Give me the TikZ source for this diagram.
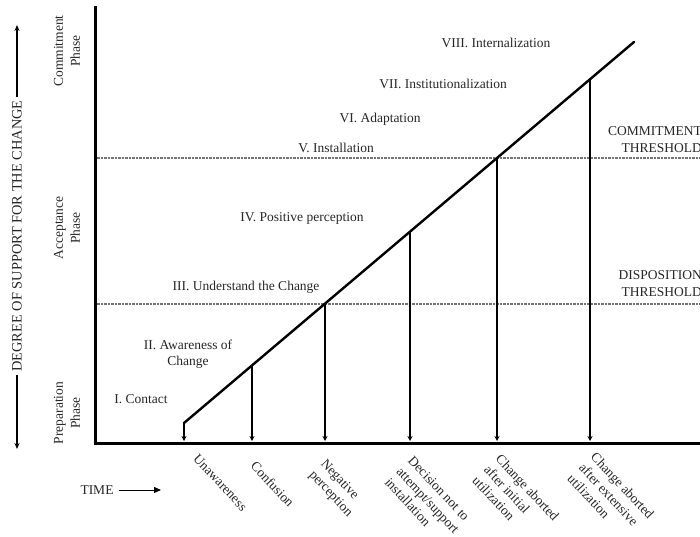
\documentclass[tikz,border=0pt]{standalone}
\usepackage{fontspec}
\setmainfont{Liberation Serif}
\usetikzlibrary{arrows.meta}
\begin{document}
\begin{tikzpicture}[x=1pt,y=-1pt,
  lbl/.style={font=\fontsize{13.5}{16}\selectfont, text=black!85, inner sep=1pt},
  dlbl/.style={lbl, rotate=-47, align=left, anchor=north west, inner sep=0pt},
  axis/.style={line width=3pt, line cap=rect},
  curve/.style={line width=2.4pt, line cap=round},
  drop/.style={line width=2.2pt, -{Stealth[length=5pt,width=5pt]}},
  thresh/.style={line width=1.4pt, black!55, dash pattern=on 2.5pt off 1pt},
  thrlbl/.style={lbl, align=right, anchor=east, font=\fontsize{13.5}{17}\selectfont},
  phase/.style={lbl, rotate=90, align=center, font=\fontsize{13.5}{17}\selectfont}]
\useasboundingbox (0,0) rectangle (700,537);
% axes
\coordinate (O) at (95,443);
\coordinate (Ytop) at (95,8);
\coordinate (Xr) at (704,443);
\draw[axis] (Ytop) -- (O) -- (Xr);
% thresholds
\coordinate (C0) at (97,158);
\coordinate (C1) at (704,158);
\coordinate (D0) at (97,304);
\coordinate (D1) at (704,304);
\draw[thresh] (C0) -- (C1);
\draw[thresh] (D0) -- (D1);
% diagonal
\coordinate (S) at (184,423);
\coordinate (E) at (634,42);
\draw[curve] (S) -- (E);
\coordinate (P1) at (252,365.4);
\coordinate (P2) at (325,303.6);
\coordinate (P3) at (410,231.7);
\coordinate (P4) at (497,158);
\coordinate (P5) at (590,79.3);
\coordinate (B0) at (184,441);
\coordinate (B1) at (252,441);
\coordinate (B2) at (325,441);
\coordinate (B3) at (410,441);
\coordinate (B4) at (497,441);
\coordinate (B5) at (590,441);
\draw[drop] (S) -- (B0);
\draw[drop] (P1) -- (B1);
\draw[drop] (P2) -- (B2);
\draw[drop] (P3) -- (B3);
\draw[drop] (P4) -- (B4);
\draw[drop] (P5) -- (B5);
% stage labels
\node[lbl] (s8) at (496,43) {VIII. Internalization};
\node[lbl] (s7) at (443,84) {VII. Institutionalization};
\node[lbl] (s6) at (380,119) {VI. Adaptation};
\node[lbl] (s5) at (336,148) {V. Installation};
\node[lbl] (s4) at (302,218) {IV. Positive perception};
\node[lbl] (s3) at (246,287) {III. Understand the Change};
\node[lbl, align=center] (s2) at (188,354) {II. Awareness of\\Change};
\node[lbl] (s1) at (141,399) {I. Contact};
% thresholds labels
\node[thrlbl] (ct) at (703,140) {COMMITMENT\\THRESHOLD};
\node[thrlbl] (dt) at (703,284) {DISPOSITION\\THRESHOLD};
% drop labels
\node[dlbl] (d0) at (199,453) {Unawareness};
\node[dlbl] (d1) at (257,460) {Confusion};
\node[dlbl] (d2) at (327,458) {Negative\\perception};
\node[dlbl] (d3) at (414,455) {Decision not to\\attempt/support\\installation};
\node[dlbl] (d4) at (502,453) {Change aborted\\after initial\\utilization};
\node[dlbl] (d5) at (597,451) {Change aborted\\after extensive\\utilization};
% left axis
\node[lbl, rotate=90, inner sep=3pt, font=\fontsize{14.4}{16}\selectfont] (deg) at (17,236) {DEGREE OF SUPPORT FOR THE CHANGE};
\coordinate (Atop) at (17,25);
\coordinate (Abot) at (17,449);
\draw[line width=1.2pt, -{Stealth[length=6pt,width=5pt]}] (deg.east) -- (Atop);
\draw[line width=1.2pt, -{Stealth[length=6pt,width=5pt]}] (deg.west) -- (Abot);
\node[phase] (ph1) at (67,51) {Commitment\\Phase};
\node[phase] (ph2) at (67,228) {Acceptance\\Phase};
\node[phase] (ph3) at (67,413) {Preparation\\Phase};
% time
\node[lbl] (time) at (97,490) {TIME};
\coordinate (T1) at (161,490);
\draw[line width=1pt, -{Triangle[length=7pt,width=6pt]}] (time.east) ++(4,0) -- (T1);
\end{tikzpicture}
\end{document}
